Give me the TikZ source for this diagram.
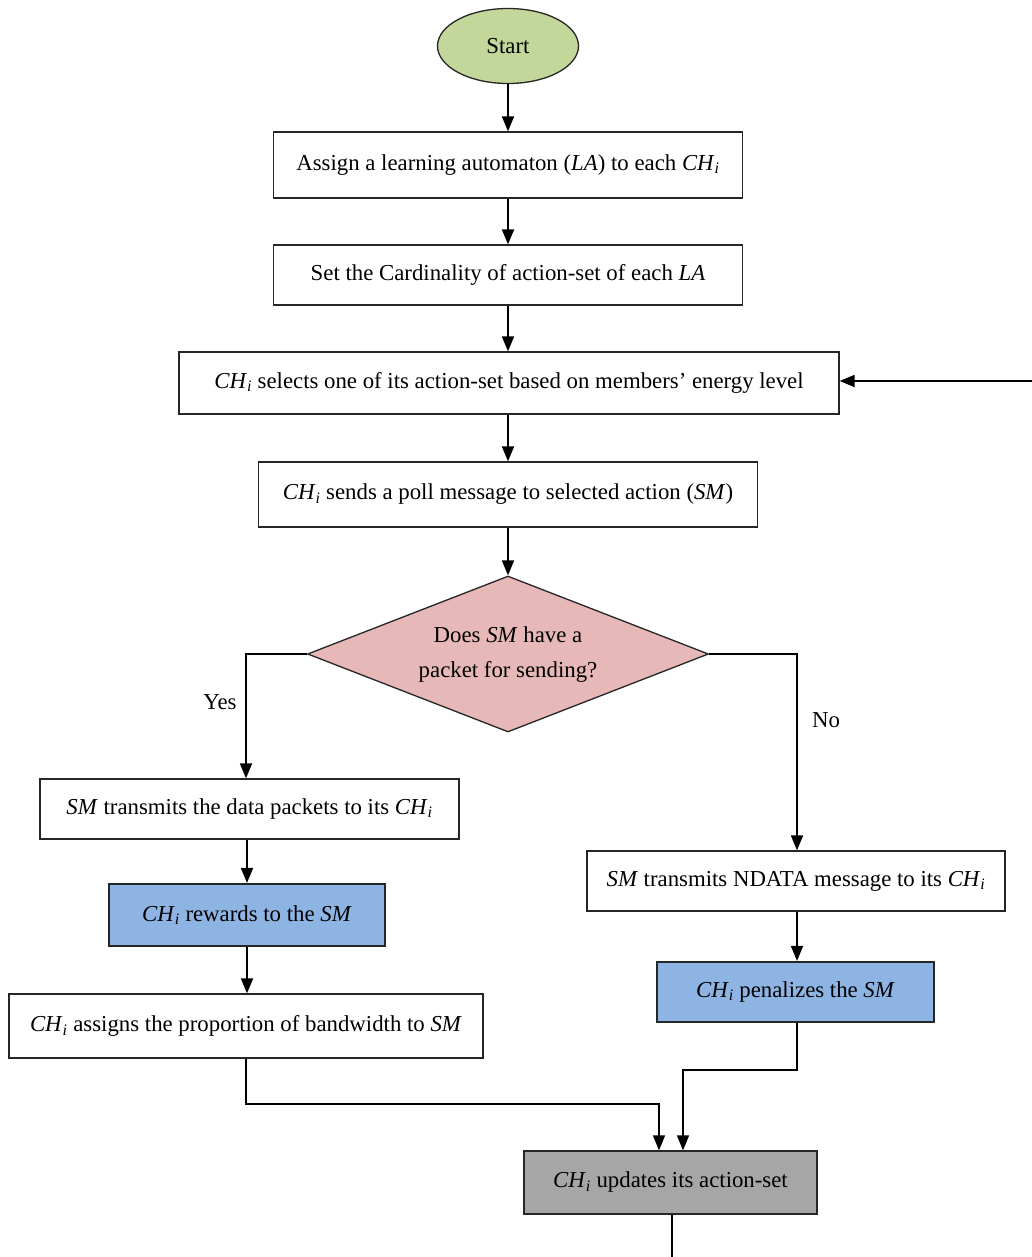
\documentclass[tikz,border=0pt]{standalone}
\usepackage{fontspec}
\setmainfont{Liberation Serif}
\usetikzlibrary{shapes.geometric,arrows.meta}
\definecolor{startgreen}{HTML}{C4D79B}
\definecolor{decpink}{HTML}{E6B8B7}
\definecolor{actblue}{HTML}{8DB4E2}
\definecolor{updgray}{HTML}{A6A6A6}
\newcommand{\myCH}{\textit{CH}\textsubscript{\textit{i}}}
\newcommand{\mySM}{\textit{SM}}
\newcommand{\myLA}{\textit{LA}}
\begin{document}
\begin{tikzpicture}[x=1pt,y=-1pt,
  every node/.style={font=\fontsize{22.8}{27}\selectfont, inner sep=0pt},
  stepbox/.style={draw=black!85, line width=1.3pt, rectangle, align=center},
  bluebox/.style={stepbox, fill=actblue, line width=2.2pt},
  flow/.style={line width=1.8pt, -{Triangle[length=15pt,width=12pt]}},
  plain/.style={line width=1.4pt}]
\useasboundingbox (0,0) rectangle (1032,1257);
\fill[white] (0,0) rectangle (1032,1257);

\node[draw=black!85, line width=1.3pt, ellipse, fill=startgreen, minimum width=141pt, minimum height=75pt] (start) at (508,46) {Start};

\node[stepbox, minimum width=469pt, minimum height=66pt] (b1) at (508,165) {Assign a learning automaton (\myLA) to each \myCH};
\node[stepbox, minimum width=469pt, minimum height=60pt] (b2) at (508,275) {Set the Cardinality of action-set of each \myLA};
\node[stepbox, minimum width=660pt, minimum height=62pt] (b3) at (509,383) {\myCH\ selects one of its action-set based on members' energy level};
\node[stepbox, minimum width=499pt, minimum height=65pt] (b4) at (508,494.5) {\myCH\ sends a poll message to selected action (\mySM)};

\node[draw=black!85, line width=1.3pt, diamond, fill=decpink, minimum width=401pt, minimum height=156pt] (dec) at (508,654) {};
\node[align=center] (dectext) at (508,655) {Does \mySM\ have a\\[8pt]packet for sending?};

\node[stepbox, minimum width=419pt, minimum height=60pt] (b5) at (249.5,809) {\mySM\ transmits the data packets to its \myCH};
\node[bluebox, minimum width=276pt, minimum height=62pt] (b6) at (247,915) {\myCH\ rewards to the \mySM};
\node[stepbox, minimum width=474pt, minimum height=64pt] (b7) at (246,1026) {\myCH\ assigns the proportion of bandwidth to \mySM};

\node[stepbox, minimum width=418pt, minimum height=60pt] (b8) at (796,881) {\mySM\ transmits NDATA message to its \myCH};
\node[bluebox, minimum width=277pt, minimum height=60pt] (b9) at (795.5,992) {\myCH\ penalizes the \mySM};

\node[stepbox, fill=updgray, minimum width=293pt, minimum height=63pt] (b10) at (670.5,1182.5) {\myCH\ updates its action-set};

\node (yes) at (220,702) {Yes};
\node (no) at (826,720) {No};

\coordinate (loopin) at (1032,381);
\coordinate (loopout) at (672,1257);

\draw[flow] (start.south) -- (b1.north);
\draw[flow] (b1.south) -- (b2.north);
\draw[flow] (b2.south) -- (b2.south |- b3.north);
\draw[flow] (loopin) -- (b3.east |- loopin);
\draw[flow] (b3.south -| b4.north) -- (b4.north);
\draw[flow] (b4.south) -- (dec.north);
\draw[flow] (dec.west) -| (b5.north -| 246,0);
\draw[flow] (dec.east) -| (b8.north -| 797,0);
\draw[flow] (b5.south -| 247,0) -- (b6.north);
\draw[flow] (b6.south) -- (b7.north -| b6.south);
\draw[flow] (b8.south -| 797,0) -- (b9.north -| 797,0);
\draw[flow, line width=1.4pt] (b7.south) -- (246,1104) -| (b10.north -| 659,0);
\draw[flow, line width=1.4pt] (b9.south -| 797,0) -- (797,1070) -| (b10.north -| 683,0);
\draw[plain] (b10.south -| 672,0) -- (loopout);
\end{tikzpicture}
\end{document}
